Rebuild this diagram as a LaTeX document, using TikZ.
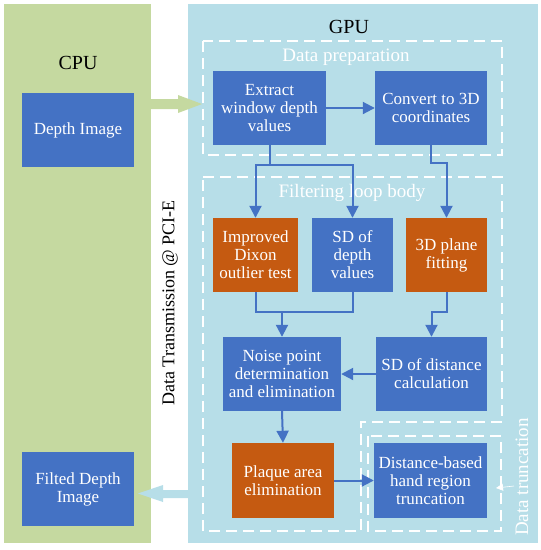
\documentclass[tikz,border=0pt]{standalone}
\usepackage{fontspec}
\setmainfont{Liberation Serif}
\usetikzlibrary{arrows.meta}
\definecolor{cpugreen}{HTML}{C5D9A0}
\definecolor{gpublue}{HTML}{B7DEE8}
\definecolor{boxblue}{HTML}{4472C4}
\definecolor{boxorange}{HTML}{C55A11}
\tikzset{
  bluebox/.style={fill=boxblue, text=white, align=center, inner sep=0pt,
    font=\fontsize{17}{18}\selectfont},
  orangebox/.style={bluebox, fill=boxorange},
  conn/.style={draw=boxblue, line width=2pt},
  arr/.style={conn, -{Triangle[length=12pt,width=12pt]}},
  dashbox/.style={draw=white, line width=1.5pt, dash pattern=on 11pt off 6pt},
  grouplabel/.style={text=white, font=\fontsize{19}{20}\selectfont, inner sep=0pt},
  panellabel/.style={text=black, font=\fontsize{20}{22}\selectfont, inner sep=0pt}
}
\begin{document}
\begin{tikzpicture}[x=1pt,y=-1pt]
\useasboundingbox (0,0) rectangle (541,550);
% panels
\fill[cpugreen] (4,4) rectangle (151,543);
\fill[gpublue] (188,4) rectangle (538,543);
\node[panellabel] (cpulabel) at (78,63) {CPU};
\node[panellabel] (gpulabel) at (349,27) {GPU};
% transfer arrows
\fill[cpugreen] (151,99) -- (178,99) -- (178,95) -- (202,104) -- (178,113) -- (178,109) -- (151,109) -- cycle;
\fill[gpublue] (188,490) -- (163,490) -- (163,485) -- (138,493.5) -- (163,502) -- (163,498) -- (188,498) -- cycle;
\node[rotate=90, font=\fontsize{18}{20}\selectfont, inner sep=0pt] (pcie) at (170,303) {Data Transmission @ PCI-E};
% dashed groups
\draw[dashbox] (203,41) rectangle (502,155);
\draw[dashbox] (203,177) -- (502,177) -- (502,422) -- (361,422) -- (361,531) -- (203,531) -- cycle;
\draw[dashbox] (368,436) rectangle (501,531);
\node[grouplabel] (lprep) at (346,57) {Data preparation};
\node[grouplabel] (lfilt) at (352,193) {Filtering loop body};
\node[grouplabel, rotate=90] (ltrunc) at (522,477) {Data truncation};
\coordinate (tcall) at (514,486);
\coordinate (tbox) at (496,488);
\draw[white, line width=0.6pt, -{Triangle[length=7pt,width=7pt]}] (tcall) -- (tbox);
% CPU boxes
\node[bluebox, minimum width=112pt, minimum height=74pt] (depth) at (78,130) {Depth Image};
\node[bluebox, minimum width=112pt, minimum height=74pt] (filted) at (78,489) {Filted Depth\\Image};
% GPU boxes
\node[bluebox, minimum width=113pt, minimum height=74pt] (extract) at (269.5,108) {Extract\\window depth\\values};
\node[bluebox, minimum width=112pt, minimum height=74pt] (convert) at (431,108) {Convert to 3D\\coordinates};
\node[orangebox, minimum width=85pt, minimum height=74pt] (dixon) at (255.5,255) {Improved\\Dixon\\outlier test};
\node[bluebox, minimum width=81pt, minimum height=74pt] (sdd) at (352.5,255) {SD of\\depth\\values};
\node[orangebox, minimum width=81pt, minimum height=74pt] (plane) at (446.5,255) {3D plane\\fitting};
\node[bluebox, minimum width=118pt, minimum height=74pt] (noise) at (282,374) {Noise point\\determination\\and elimination};
\node[bluebox, minimum width=111pt, minimum height=74pt] (sddist) at (431.5,374) {SD of distance\\calculation};
\node[orangebox, minimum width=102pt, minimum height=75pt] (plaque) at (283,480.5) {Plaque area\\elimination};
\node[bluebox, minimum width=113pt, minimum height=75pt] (trunc) at (430.5,480.5) {Distance-based\\hand region\\truncation};
% connectors
\draw[arr] (extract.east) -- (convert.west);
\coordinate (j1) at (269.5,165);
\draw[conn] (extract.south) -- (j1);
\draw[arr] (j1) -| (dixon.north);
\draw[arr] (j1) -| (sdd.north);
\coordinate (j2) at (431,163);
\draw[arr] (convert.south) -- (j2) -| (plane.north);
\coordinate (j3) at (282,312);
\draw[conn] (dixon.south) |- (j3);
\draw[conn] (sdd.south) |- (j3);
\draw[arr] (j3) -- (noise.north);
\coordinate (j4) at (446.5,312);
\draw[arr] (plane.south) -- (j4) -| (sddist.north);
\draw[arr] (sddist.west) -- (noise.east);
\draw[arr] (noise.south) -- (plaque.north);
\draw[arr] (plaque.east) -- (trunc.west);
\end{tikzpicture}
\end{document}
